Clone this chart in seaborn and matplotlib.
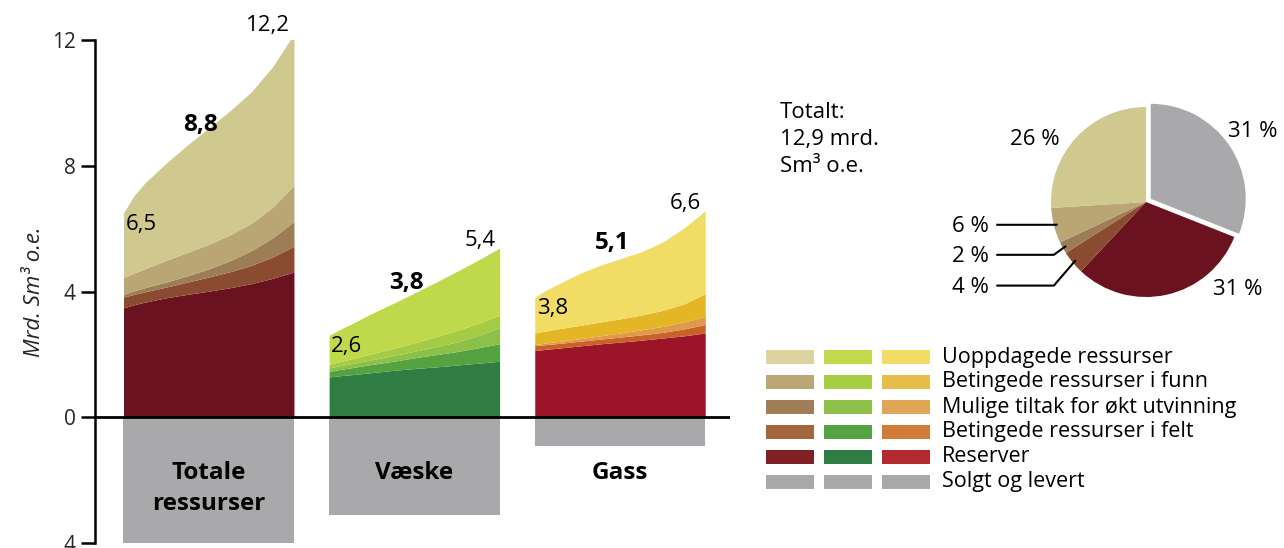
import numpy as np
import matplotlib
matplotlib.use("Agg")
import matplotlib.pyplot as plt
import seaborn as sns
from matplotlib.patches import Rectangle

# --- data ---
categories = ["Totale\nressurser", "Væske", "Gass"]
legend_names = ["Uoppdagede ressurser", "Betingede ressurser i funn",
                "Mulige tiltak for økt utvinning", "Betingede ressurser i felt",
                "Reserver", "Solgt og levert"]

# sample positions across each block (0 = left edge, 1 = right edge)
steps = [0, 0.0625, 0.125, 0.25, 0.375, 0.5, 0.625, 0.75, 0.875, 1]

# cumulative top of each layer (reserver, felt, mulige, funn, uoppdagede)
totale_reserver = [3.48, 3.58, 3.66, 3.80, 3.91, 4.01, 4.12, 4.25, 4.42, 4.62]
totale_felt = [3.82, 3.91, 3.99, 4.14, 4.30, 4.46, 4.63, 4.83, 5.10, 5.44]
totale_mulige = [3.91, 4.02, 4.12, 4.30, 4.50, 4.72, 4.98, 5.30, 5.71, 6.23]
totale_funn = [4.44, 4.59, 4.72, 4.99, 5.24, 5.50, 5.80, 6.17, 6.68, 7.38]
totale_uopp = [6.50, 7.05, 7.45, 8.08, 8.66, 9.20, 9.75, 10.35, 11.15, 12.20]

vaeske_reserver = [1.28, 1.32, 1.35, 1.42, 1.49, 1.55, 1.60, 1.66, 1.72, 1.78]
vaeske_felt = [1.46, 1.52, 1.57, 1.68, 1.78, 1.89, 1.99, 2.09, 2.21, 2.34]
vaeske_mulige = [1.57, 1.64, 1.70, 1.83, 1.96, 2.10, 2.24, 2.40, 2.60, 2.85]
vaeske_funn = [1.68, 1.77, 1.85, 2.02, 2.19, 2.37, 2.56, 2.76, 2.99, 3.25]
vaeske_uopp = [2.60, 2.79, 2.95, 3.30, 3.62, 3.95, 4.29, 4.64, 5.00, 5.38]

gass_reserver = [2.12, 2.16, 2.19, 2.26, 2.33, 2.39, 2.45, 2.52, 2.59, 2.68]
gass_felt = [2.28, 2.31, 2.34, 2.41, 2.48, 2.55, 2.62, 2.70, 2.81, 2.95]
gass_mulige = [2.31, 2.36, 2.40, 2.49, 2.58, 2.68, 2.78, 2.89, 3.03, 3.21]
gass_funn = [2.68, 2.74, 2.80, 2.91, 3.02, 3.13, 3.25, 3.40, 3.60, 3.93]
gass_uopp = [3.82, 4.03, 4.20, 4.54, 4.82, 5.04, 5.26, 5.57, 6.02, 6.56]

sold = [4.0, 3.1, 0.9]

low_labels = ["6,5", "2,6", "3,8"]
mid_labels = ["8,8", "3,8", "5,1"]
high_labels = ["12,2", "5,4", "6,6"]

pie_shares = [31, 31, 4, 2, 6, 26]
pie_labels = ["31 %", "31 %", "4 %", "2 %", "6 %", "26 %"]

# colours
grey = "#a9a9ab"
totale_colors = ["#6a1220", "#8a4b30", "#9d7d55", "#baa574", "#cfc98f"]
vaeske_colors = ["#2f7d42", "#55a340", "#8dc048", "#a5cb45", "#bfd94b"]
gass_colors = ["#9c1428", "#c9622a", "#de9a4a", "#e4b524", "#f1dc66"]
legend_cols = [
    ["#dcd3a1", "#bba775", "#9e7d57", "#a3663f", "#7f2027", grey],
    ["#c0da4b", "#a7cd43", "#8dc04a", "#55a342", "#2f7d42", grey],
    ["#f1dc66", "#e6bd47", "#e0a556", "#d27b38", "#b32b30", grey],
]

panels = [
    [totale_reserver, totale_felt, totale_mulige, totale_funn, totale_uopp],
    [vaeske_reserver, vaeske_felt, vaeske_mulige, vaeske_funn, vaeske_uopp],
    [gass_reserver, gass_felt, gass_mulige, gass_funn, gass_uopp],
]
panel_colors = [totale_colors, vaeske_colors, gass_colors]

sns.set_theme(style="white")
plt.rcParams["font.family"] = ["Open Sans", "DejaVu Sans"]
plt.rcParams["text.color"] = "black"

W, H = 1284, 548
fig = plt.figure(figsize=(W / 100, H / 100), dpi=100)
ax = fig.add_axes([95 / W, 5 / H, 635 / W, 503 / H])

bar_w = 0.829

# sold and delivered as negative bars
sns.barplot(x=categories, y=[-s for s in sold], color=grey, saturation=1,
            width=bar_w, errorbar=None, ax=ax, linewidth=0)

# stacked resource areas
for i, layers in enumerate(panels):
    xs = i - bar_w / 2 + np.array(steps) * bar_w
    bottom = np.zeros(len(steps))
    for top, col in zip(layers, panel_colors[i]):
        ax.fill_between(xs, bottom, top, color=col, linewidth=0)
        bottom = np.array(top)
    ax.text(xs[0] + 0.01, layers[-1][0] - 0.02, low_labels[i], ha="left",
            va="top", fontsize=16)
    ax.text(xs[-1] - 0.02, layers[-1][-1] + 0.08, high_labels[i], ha="right",
            va="baseline", fontsize=16, clip_on=False)
    ax.text(i, -1.4, categories[i], ha="center", va="top", fontsize=17.5,
            fontweight="bold", linespacing=1.4)

for i, y in enumerate([9.3, 4.28, 5.55]):
    ax.text(i - 0.04, y, mid_labels[i], ha="center", va="center",
            fontsize=17.5, fontweight="bold")

ax.axhline(0, color="black", lw=2, zorder=5)
ax.set_xlim(-0.553, 2.535)
ax.set_ylim(-4, 12)
ax.set_xticks([])
ax.set_xlabel("")
ax.set_yticks([-4, 0, 4, 8, 12])
ax.set_yticklabels(["4", "0", "4", "8", "12"], fontsize=15)
ax.tick_params(axis="y", length=10, width=1.8, color="black", left=True, pad=4)
for s in ["top", "right", "bottom"]:
    ax.spines[s].set_visible(False)
ax.spines["left"].set_linewidth(1.8)
ax.spines["left"].set_color("black")
ax.set_ylabel("Mrd. Sm³ o.e.", fontsize=16, fontstyle="italic")
ax.yaxis.set_label_coords(-0.078, 0.5)
ax.set_facecolor("none")

# pie of total resources
pr = 95
pcx, pcy = 1146, 202
pax = fig.add_axes([(pcx - 1.7 * pr) / W, (H - pcy - 1.7 * pr) / H, 3.4 * pr / W, 3.4 * pr / H])
pie_colors = [grey] + totale_colors
wedges, _ = pax.pie(pie_shares, colors=pie_colors, startangle=90, counterclock=False,
                    explode=[0.06, 0, 0, 0, 0, 0], wedgeprops=dict(linewidth=0))
pax.set_xlim(-1.7, 1.7)
pax.set_ylim(-1.7, 1.7)
pax.set_aspect("equal")
pax.axis("off")

pax.text(1.12, 0.745, pie_labels[0], ha="center", va="center", fontsize=16)
pax.text(0.97, -0.92, pie_labels[1], ha="center", va="center", fontsize=16)
pax.text(-1.17, 0.66, pie_labels[5], ha="center", va="center", fontsize=16)
for w, lab, ly in zip(wedges[2:5], pie_labels[2:5], [-0.88, -0.556, -0.24]):
    ang = np.deg2rad((w.theta1 + w.theta2) / 2)
    px, py = 0.96 * np.cos(ang), 0.96 * np.sin(ang)
    pax.plot([-1.576, -0.97, px], [ly, ly, py], color="black", lw=1.5,
             solid_capstyle="butt")
    pax.text(-1.65, ly - 0.02, lab, ha="right", va="center", fontsize=16)

# overlay for legend and note, in pixel coordinates
ov = fig.add_axes([0, 0, 1, 1], zorder=-1)
ov.set_xlim(0, W)
ov.set_ylim(H, 0)
ov.axis("off")
ov.text(780, 102, "Totalt:\n12,9 mrd.\nSm³ o.e.", ha="left", va="top",
        fontsize=16, linespacing=1.38)
for r, name in enumerate(legend_names):
    yc = 357 + r * 25
    for c, x0 in enumerate([766, 824, 882]):
        ov.add_patch(Rectangle((x0, yc - 7), 48, 14, color=legend_cols[c][r], lw=0))
    ov.text(942, yc, name, ha="left", va="center", fontsize=15.5)

fig.savefig("out.png", dpi=100)
